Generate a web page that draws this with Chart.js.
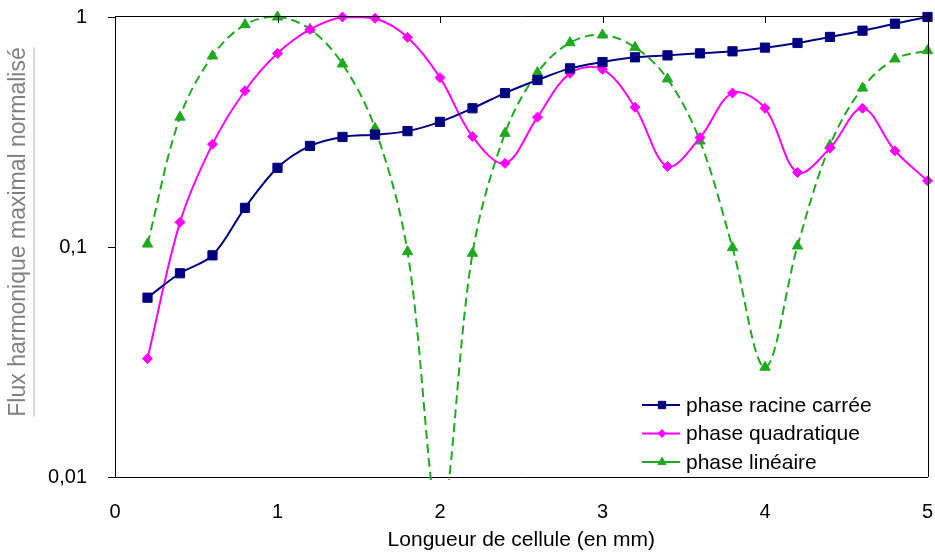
<!DOCTYPE html>
<html>
<head>
<meta charset="utf-8">
<script src="https://cdn.jsdelivr.net/npm/chart.js@4.4.0/dist/chart.umd.min.js"></script>
<style>
  html, body { margin: 0; padding: 0; background: #ffffff; }
  #wrap { width: 935px; height: 554px; }
</style>
</head>
<body>
<div id="wrap"><canvas id="c" width="935" height="554"></canvas></div>
<script>
// ---- Data ----
const xValues = [0.2, 0.4, 0.6, 0.8, 1.0, 1.2, 1.4, 1.6, 1.8, 2.0, 2.2, 2.4, 2.6, 2.8, 3.0, 3.2, 3.4, 3.6, 3.8, 4.0, 4.2, 4.4, 4.6, 4.8, 5.0];
const racineCarree = [0.0602, 0.0769, 0.092, 0.148, 0.221, 0.275, 0.301, 0.308, 0.319, 0.350, 0.401, 0.467, 0.532, 0.598, 0.637, 0.668, 0.681, 0.695, 0.709, 0.736, 0.771, 0.819, 0.872, 0.935, 1.0];
const quadratique = [0.0327, 0.128, 0.280, 0.478, 0.695, 0.883, 1.0, 0.987, 0.816, 0.545, 0.302, 0.231, 0.367, 0.569, 0.592, 0.405, 0.224, 0.299, 0.467, 0.401, 0.211, 0.269, 0.401, 0.262, 0.194];
const lineaire = [0.103, 0.367, 0.677, 0.926, 1.0, 0.884, 0.625, 0.328, 0.0954, 0.0065, 0.0939, 0.312, 0.573, 0.773, 0.835, 0.738, 0.538, 0.289, 0.0993, 0.030, 0.101, 0.277, 0.491, 0.657, 0.714];
const seriesLabels = ['phase racine carrée', 'phase quadratique', 'phase linéaire'];
const xTicks = [0, 1, 2, 3, 4, 5];
const xTickLabels = ['0', '1', '2', '3', '4', '5'];
const yTicks = [0.01, 0.1, 1];
const yTickLabels = ['0,01', '0,1', '1'];
const xTitle = 'Longueur de cellule (en mm)';
const yTitle = 'Flux harmonique maximal normalisé';

const FONT = "Arial, 'Liberation Sans', Helvetica, sans-serif";
const NAVY = '#000080', MAGENTA = '#FF00FF', GREEN = '#1EAA1E';

function pts(arr) { return xValues.map((x, i) => ({ x: x, y: arr[i] })); }
const clipBox = { left: 12, top: 12, right: 12, bottom: 3 };

const datasets = [
  { label: seriesLabels[0], data: pts(racineCarree), borderColor: NAVY, backgroundColor: NAVY,
    pointStyle: 'rect', pointRadius: 6.5, pointBorderWidth: 1, borderWidth: 2, tension: 0.35, clip: clipBox },
  { label: seriesLabels[1], data: pts(quadratique), borderColor: MAGENTA, backgroundColor: MAGENTA,
    pointStyle: 'rectRot', pointRadius: 5, pointBorderWidth: 1, borderWidth: 2, tension: 0.35, clip: clipBox },
  { label: seriesLabels[2], data: pts(lineaire), borderColor: GREEN, backgroundColor: GREEN,
    pointStyle: 'triangle', pointRadius: 6, pointBorderWidth: 1, borderWidth: 2, borderDash: [9, 5], tension: 0.35,
    capBezierPoints: false, clip: clipBox }
];

// Frame (top/right), inner top ticks, y title with underline, legend
const decorPlugin = {
  id: 'decor',
  afterDatasetsDraw(chart) {
    const ctx = chart.ctx;
    const a = chart.chartArea;
    const xs = chart.scales.x;
    ctx.save();
    ctx.strokeStyle = '#000';
    ctx.lineWidth = 1;
    ctx.beginPath();
    ctx.moveTo(a.left, Math.round(a.top) - 0.5);
    ctx.lineTo(a.right + 0.5, Math.round(a.top) - 0.5);
    ctx.moveTo(Math.round(a.right) + 0.5, a.top);
    ctx.lineTo(Math.round(a.right) + 0.5, a.bottom);
    xTicks.slice(1, -1).forEach(v => {
      const px = Math.round(xs.getPixelForValue(v)) + 0.5;
      ctx.moveTo(px, a.top);
      ctx.lineTo(px, a.top + 6);
    });
    ctx.stroke();
    ctx.restore();
  },
  afterDraw(chart) {
    const ctx = chart.ctx;
    // Y title
    ctx.save();
    ctx.translate(19, 232);
    ctx.rotate(-Math.PI / 2);
    ctx.font = '23px ' + FONT;
    ctx.fillStyle = '#808080';
    ctx.textAlign = 'center';
    ctx.textBaseline = 'middle';
    ctx.fillText(yTitle, 0, 0);
    const w = ctx.measureText(yTitle).width;
    ctx.strokeStyle = '#c8c8c8';
    ctx.lineWidth = 1.5;
    ctx.beginPath();
    ctx.moveTo(-w / 2, 15);
    ctx.lineTo(w / 2, 15);
    ctx.stroke();
    ctx.restore();

    // Legend
    ctx.save();
    ctx.font = '21px ' + FONT;
    ctx.textBaseline = 'middle';
    ctx.textAlign = 'left';
    chart.data.datasets.forEach((ds, i) => {
      const cy = 405 + i * 28.5;
      ctx.strokeStyle = ds.borderColor;
      ctx.lineWidth = 2;
      ctx.setLineDash([]);
      ctx.beginPath();
      ctx.moveTo(642, cy);
      ctx.lineTo(680, cy);
      ctx.stroke();
      ctx.fillStyle = ds.backgroundColor;
      ctx.lineWidth = 1;
      Chart.helpers.drawPoint(ctx, { pointStyle: ds.pointStyle, radius: ds.pointRadius * 0.8, rotation: 0, borderWidth: 1 }, 662, cy);
      ctx.fillStyle = '#000';
      ctx.fillText(ds.label, 686, cy + 1);
    });
    ctx.restore();
  }
};

new Chart(document.getElementById('c'), {
  type: 'line',
  data: { datasets: datasets },
  options: {
    responsive: false,
    animation: false,
    devicePixelRatio: 1,
    layout: { padding: { left: 0, right: 6, top: 17, bottom: 0 } },
    plugins: { legend: { display: false }, tooltip: { enabled: false }, title: { display: false } },
    scales: {
      x: {
        type: 'linear', min: 0, max: 5,
        afterBuildTicks: s => { s.ticks = xTicks.map(v => ({ value: v })); },
        ticks: { callback: (v, i) => xTickLabels[i], font: { family: FONT, size: 20 }, color: '#000', padding: 23, maxRotation: 0, autoSkip: false },
        grid: { display: false, drawTicks: false },
        border: { display: true, color: '#000', width: 1 },
        title: { display: true, text: xTitle, font: { family: FONT, size: 21 }, color: '#000', padding: { top: 0, bottom: 1 } },
        afterFit: s => { s.height = 77; s.paddingLeft = 0; s.paddingRight = 0; }
      },
      y: {
        type: 'logarithmic', min: 0.01, max: 1,
        afterBuildTicks: s => { s.ticks = yTicks.map(v => ({ value: v })); },
        ticks: { callback: (v, i) => yTickLabels[i], font: { family: FONT, size: 20 }, color: '#000', padding: 21, autoSkip: false },
        grid: { drawOnChartArea: false, drawTicks: true, tickLength: 7, color: '#000' },
        border: { display: true, color: '#000', width: 1 },
        afterFit: s => { s.width = 115; s.paddingTop = 0; s.paddingBottom = 0; }
      }
    }
  },
  plugins: [decorPlugin]
});
</script>
</body>
</html>
